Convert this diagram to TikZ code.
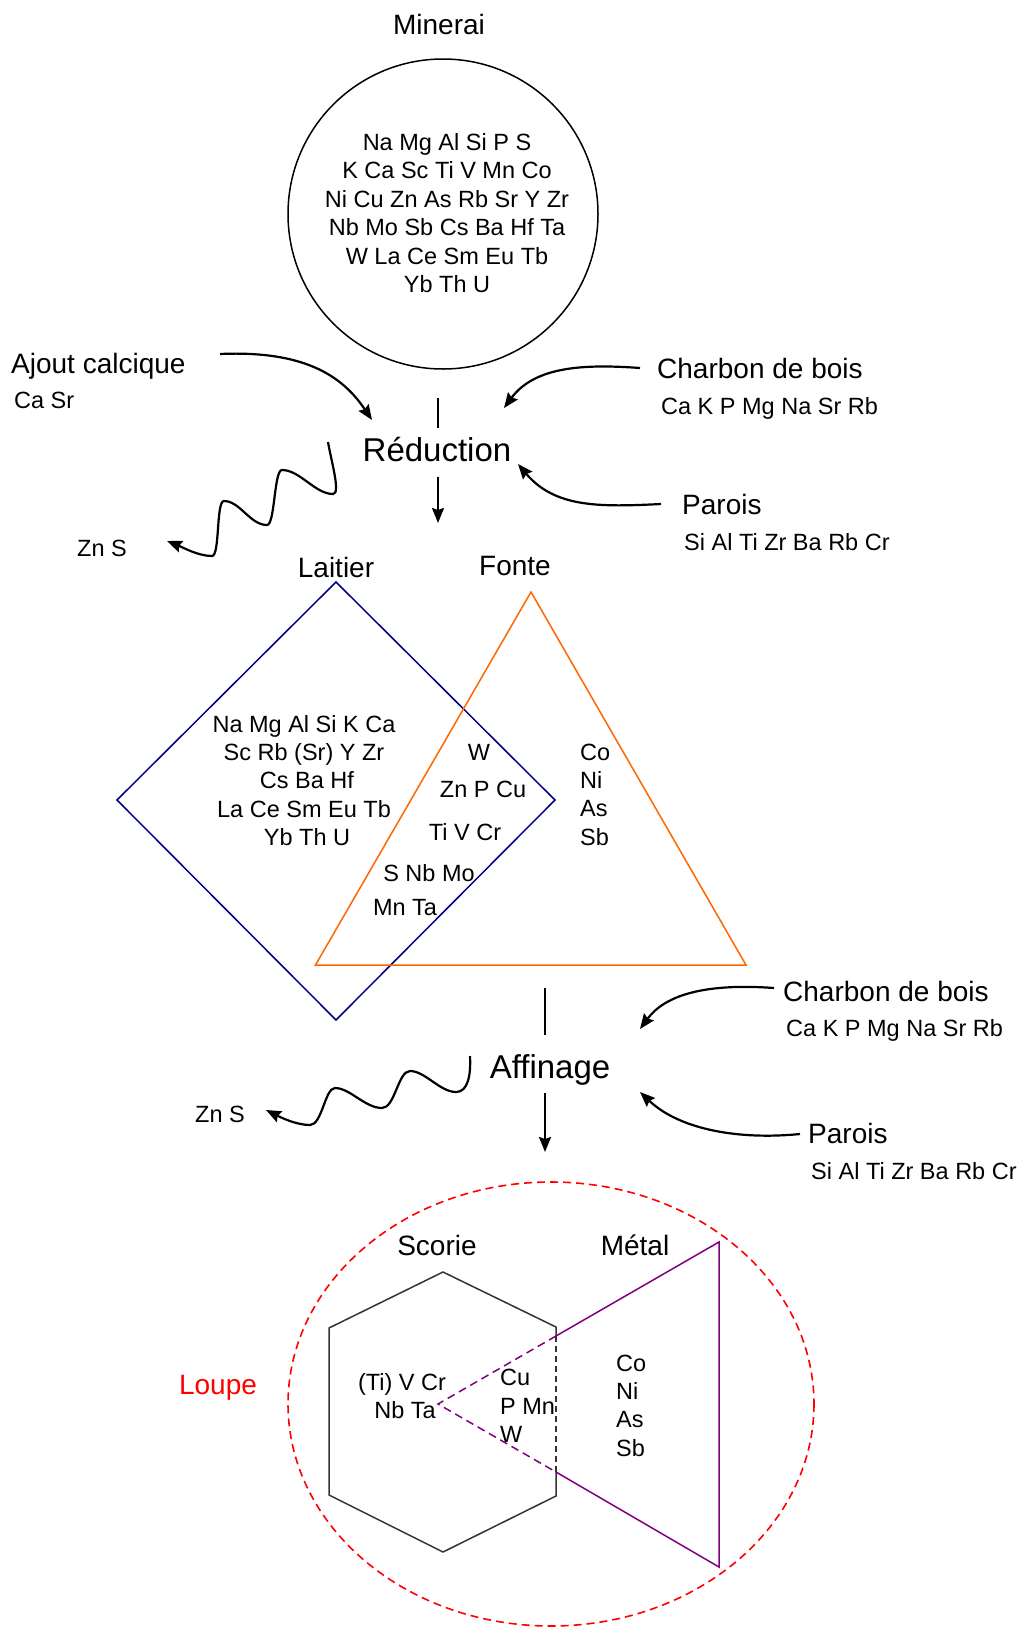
\documentclass[tikz,border=0pt]{standalone}
\usepackage{fontspec}
\setmainfont{Liberation Sans}
\usetikzlibrary{arrows.meta}
\definecolor{navyc}{RGB}{0,0,128}
\definecolor{orangec}{RGB}{255,102,0}
\definecolor{purplec}{RGB}{128,0,128}
\definecolor{hexc}{RGB}{51,51,51}
\begin{document}
\begin{tikzpicture}[x=1pt,y=-1pt,
  el/.style={font=\fontsize{23.5}{28}\selectfont, inner sep=0pt, text height=16.8pt, text depth=0pt},
  lbl/.style={font=\fontsize{28}{34}\selectfont, inner sep=0pt, text height=20pt, text depth=0pt},
  proc/.style={font=\fontsize{33}{40}\selectfont, inner sep=0pt, text height=23.6pt, text depth=0pt},
  arr/.style={line width=2.2pt, -{Stealth[length=15pt,width=12pt,inset=2pt]}},
  plain/.style={line width=2pt},
  thin/.style={line width=1.5pt}]
\fill[white] (0,0) rectangle (1025,1628);
\useasboundingbox (0,0) rectangle (1025,1628);

% ---------- Minerai ----------
\node[lbl] (minerai) at (439,24) {Minerai};
\node[draw, circle, thin, minimum size=310pt, inner sep=0pt] (mincirc) at (443,214) {};
\node[el] (m1) at (447,142) {Na Mg Al Si P S};
\node[el] (m2) at (447,170.4) {K Ca Sc Ti V Mn Co};
\node[el] (m3) at (447,198.8) {Ni Cu Zn As Rb Sr Y Zr};
\node[el] (m4) at (447,227.2) {Nb Mo Sb Cs Ba Hf Ta};
\node[el] (m5) at (447,255.6) {W La Ce Sm Eu Tb};
\node[el] (m6) at (447,284) {Yb Th U};

% ---------- Reduction ----------
\node[proc] (reduc) at (437,450) {Réduction};
\coordinate (l1a) at (438,398); \coordinate (l1b) at (438,428);
\draw[plain] (l1a) -- (l1b);
\coordinate (r1a) at (438,477); \coordinate (r1b) at (438,523);
\draw[arr] (r1a) -- (r1b);

\node[lbl, anchor=west] (ajout) at (11,363) {Ajout calcique};
\node[el, anchor=west] (ajoutel) at (14,400) {Ca Sr};
\coordinate (a1s) at (220,354); \coordinate (a1e) at (372,420);
\draw[arr] (a1s) .. controls (310,350) and (345,380) .. (a1e);

\node[lbl, anchor=west] (charb1) at (657,368) {Charbon de bois};
\node[el, anchor=west] (charb1el) at (661,406) {Ca K P Mg Na Sr Rb};
\coordinate (c1s) at (640,368); \coordinate (c1e) at (504,408);
\draw[arr] (c1s) .. controls (585,364) and (535,366) .. (c1e);

\node[lbl, anchor=west] (parois1) at (682,504) {Parois};
\node[el, anchor=west] (parois1el) at (684,542) {Si Al Ti Zr Ba Rb Cr};
\coordinate (p1s) at (661,504); \coordinate (p1e) at (518,464);
\draw[arr] (p1s) .. controls (600,507) and (555,508) .. (p1e);

\node[el, anchor=west] (zns1) at (77,548) {Zn S};
\coordinate (w1s) at (328,442); \coordinate (w1e) at (167,541);
\draw[arr] (w1s) .. controls (331,460) and (341,494) .. (333,494)
  .. controls (315,494) and (300,470) .. (282,470)
  .. controls (274,470) and (275,525) .. (267,525)
  .. controls (250,525) and (240,501) .. (224,501)
  .. controls (216,501) and (220,556) .. (212,556)
  .. controls (198,556) and (182,547) .. (w1e);

% ---------- Laitier / Fonte ----------
\node[lbl] (laitier) at (336,567) {Laitier};
\node[lbl] (fonte) at (515,565) {Fonte};
\draw[navyc, thin, line join=miter] (336,582) -- (555,800) -- (336,1020) -- (117,800) -- cycle;
\draw[orangec, thin, line join=miter] (531,592) -- (746,965) -- (315.5,965) -- cycle;

\node[el] (la1) at (304,724) {Na Mg Al Si K Ca};
\node[el] (la2) at (304,752) {Sc Rb (Sr) Y Zr};
\node[el] (la3) at (307,780.5) {Cs Ba Hf};
\node[el] (la4) at (304,809) {La Ce Sm Eu Tb};
\node[el] (la5) at (307,837) {Yb Th U};

\node[el] (i1) at (479,752) {W};
\node[el] (i2) at (483,789) {Zn P Cu};
\node[el] (i3) at (465,832) {Ti V Cr};
\node[el] (i4) at (429,873) {S Nb Mo};
\node[el] (i5) at (405,907) {Mn Ta};

\node[el, anchor=west] (f1) at (580,752) {Co};
\node[el, anchor=west] (f2) at (580,780.5) {Ni};
\node[el, anchor=west] (f3) at (580,808.5) {As};
\node[el, anchor=west] (f4) at (580,837) {Sb};

% ---------- Affinage ----------
\node[proc] (affin) at (550,1067) {Affinage};
\coordinate (l2a) at (545,988); \coordinate (l2b) at (545,1035);
\draw[plain] (l2a) -- (l2b);
\coordinate (r2a) at (545,1093); \coordinate (r2b) at (545,1152);
\draw[arr] (r2a) -- (r2b);

\node[lbl, anchor=west] (charb2) at (783,991) {Charbon de bois};
\node[el, anchor=west] (charb2el) at (786,1028) {Ca K P Mg Na Sr Rb};
\coordinate (c2s) at (774,988); \coordinate (c2e) at (640,1029);
\draw[arr] (c2s) .. controls (705,983) and (665,995) .. (c2e);

\node[lbl, anchor=west] (parois2) at (808,1133) {Parois};
\node[el, anchor=west] (parois2el) at (811,1171) {Si Al Ti Zr Ba Rb Cr};
\coordinate (p2s) at (800,1134); \coordinate (p2e) at (640,1092);
\draw[arr] (p2s) .. controls (740,1140) and (680,1130) .. (p2e);

\node[el, anchor=west] (zns2) at (195,1114) {Zn S};
\coordinate (w2s) at (470,1056); \coordinate (w2e) at (266,1110);
\draw[arr] (w2s) .. controls (471,1075) and (468,1092) .. (456,1092)
  .. controls (440,1092) and (425,1071) .. (410,1071)
  .. controls (398,1071) and (395,1108) .. (382,1108)
  .. controls (365,1108) and (350,1088) .. (335,1088)
  .. controls (325,1088) and (322,1125) .. (310,1125)
  .. controls (296,1125) and (280,1117) .. (w2e);

% ---------- Loupe ----------
\draw[red, line width=1.6pt, dash pattern=on 8pt off 5pt] (551,1404) ellipse [x radius=263, y radius=222];
\node[lbl, text=red] (loupe) at (218,1384) {Loupe};
\node[lbl] (scorie) at (437,1245) {Scorie};
\node[lbl] (metal) at (635,1245) {Métal};

\draw[hexc, thin, line join=miter] (556,1336) -- (556,1327) -- (443,1272) -- (329,1328) -- (329,1495) -- (443,1552) -- (556,1496) -- (556,1472);
\draw[hexc, thin, dash pattern=on 6pt off 4pt] (556,1336) -- (556,1472);
\draw[purplec, thin, line join=miter] (556,1336) -- (719,1242) -- (719,1567) -- (556,1472);
\draw[purplec, thin, dash pattern=on 8pt off 5pt] (556,1336) -- (438,1404) -- (556,1472);

\node[el] (s1) at (402,1382) {(Ti) V Cr};
\node[el] (s2) at (405,1410) {Nb Ta};
\node[el, anchor=west] (c1) at (500,1377) {Cu};
\node[el, anchor=west] (c2) at (500,1406) {P Mn};
\node[el, anchor=west] (c3) at (500,1434) {W};
\node[el, anchor=west] (mt1) at (616,1363) {Co};
\node[el, anchor=west] (mt2) at (616,1391) {Ni};
\node[el, anchor=west] (mt3) at (616,1419) {As};
\node[el, anchor=west] (mt4) at (616,1448) {Sb};
\end{tikzpicture}
\end{document}
